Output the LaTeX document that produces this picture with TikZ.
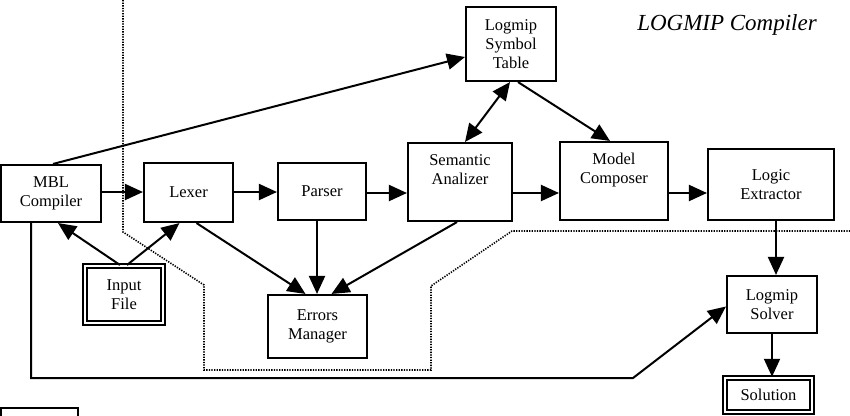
\documentclass[tikz,border=0pt]{standalone}
\usepackage{fontspec}
\setmainfont{Liberation Serif}
\usetikzlibrary{arrows.meta,calc}
\begin{document}
\begin{tikzpicture}[x=1pt,y=-1pt,
  box/.style={draw,line width=2.1pt,align=center,inner sep=2pt,
    font=\fontsize{16.5}{19}\selectfont},
  dbox/.style={box,double,line width=2pt,double distance=2pt},
  arr/.style={line width=2pt,-{Triangle[length=18pt,width=16pt]}},
  darr/.style={line width=2pt,{Triangle[length=18pt,width=16pt]}-{Triangle[length=18pt,width=16pt]}},
  boundary/.style={line width=1.6pt,dash pattern=on 1.3pt off 1.3pt}]
\useasboundingbox (0,0) rectangle (850,415);
\clip (0,0) rectangle (850,415);
\fill[white] (0,0) rectangle (850,415);

% dotted boundary
\draw[boundary] (123,0) -- (123,232) -- (204,285) -- (204,370) -- (431,370)
  -- (431,286) -- (512,231) -- (850,231);

% nodes
\node[box,minimum width=100pt,minimum height=57pt] (mbl) at (51,193.5) {MBL\\Compiler};
\node[box,minimum width=89pt,minimum height=59pt] (lexer) at (188.5,192.5) {Lexer};
\node[box,minimum width=88pt,minimum height=57pt] (parser) at (322,191.5) {Parser};
\node[box,minimum width=104pt,minimum height=78pt] (sem) at (460,182) {Semantic\\Analizer\\[6pt]};
\node[box,minimum width=108pt,minimum height=78pt] (model) at (614,181) {Model\\Composer\\[6pt]};
\node[box,minimum width=126pt,minimum height=71pt] (logic) at (771,184.5) {Logic\\Extractor};
\node[box,minimum width=90pt,minimum height=74pt] (sym) at (511,44) {Logmip\\Symbol\\Table};
\node[box,minimum width=99pt,minimum height=63pt] (err) at (317.5,326.5) {Errors\\Manager};
\node[box,minimum width=90pt,minimum height=57pt] (solver) at (772,304.5) {Logmip\\Solver};
\node[dbox,minimum width=78pt,minimum height=57pt] (input) at (124,294.5) {Input\\File};
\node[dbox,minimum width=87pt,minimum height=34.5pt] (sol) at (768.5,395) {Solution};
\node[font=\fontsize{23}{27}\selectfont\itshape] (title) at (727,25) {LOGMIP Compiler};

% partial box at bottom left
\draw[line width=2pt] (1,445) -- (1,408) -- (78,408) -- (78,445);

% connectors
\draw[arr] (mbl.east |- 0,192) -- (lexer.west |- 0,192);
\draw[arr] (lexer.east |- 0,192) -- (parser.west |- 0,192);
\draw[arr] (parser.east |- 0,193) -- (sem.west |- 0,193);
\draw[arr] (sem.east |- 0,193) -- (model.west |- 0,193);
\draw[arr] (model.east |- 0,193) -- (logic.west |- 0,193);
\draw[arr] ([xshift=2pt]mbl.north) -- ([yshift=-13pt]sym.west);
\draw[darr] ([xshift=5pt]sem.north) -- ([xshift=-1pt]sym.south);
\draw[arr] ([xshift=7pt]sym.south) -- ([xshift=-4pt]model.north);
\draw[arr] ([xshift=-4pt]input.north) -- ([xshift=7pt]mbl.south);
\draw[arr] ([xshift=3pt]input.north) -- ([xshift=-9pt]lexer.south);
\draw[arr] ([xshift=8pt]lexer.south) -- ([xshift=-12pt]err.north);
\draw[arr] ([xshift=-0.5pt]err.north |- parser.south) -- ([xshift=-0.5pt]err.north);
\draw[arr] ([xshift=-3pt]sem.south) -- ([xshift=14pt]err.north);
\draw[arr] ([xshift=4pt]solver.north |- logic.south) -- ([xshift=4pt]solver.north);
\draw[arr] (solver.south) -- (solver.south |- sol.north);
\coordinate (c1) at (31,378);
\coordinate (c2) at (633,378);
\draw[arr,line join=miter] (mbl.south -| c1) -- (c1) -- (c2) -- ([yshift=-2pt]solver.west);
\end{tikzpicture}
\end{document}
